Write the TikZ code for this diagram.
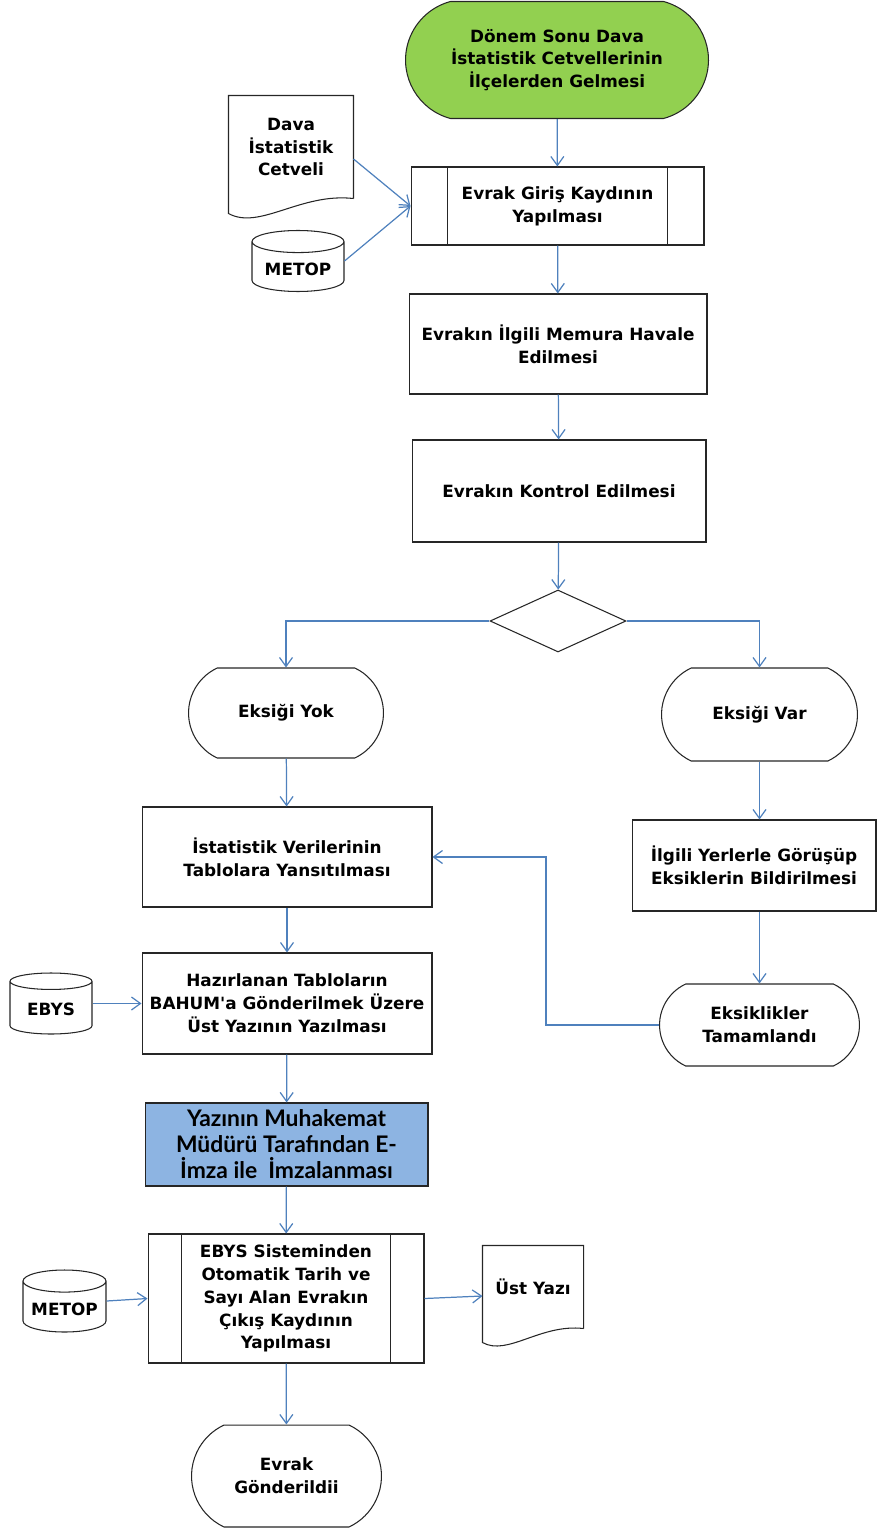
\documentclass[tikz,border=0pt]{standalone}
\usepackage{fontspec}
\newfontfamily\flowfont{DejaVu Sans}
\newfontfamily\signfont{Lato}
\usepackage{xcolor}
\definecolor{termgreen}{HTML}{92D050}
\definecolor{signblue}{HTML}{8DB4E2}
\definecolor{linkblue}{HTML}{4F81BD}
\usetikzlibrary{arrows.meta,shapes.geometric,shapes.misc}
\tikzset{
  fb/.style={draw=black!85, line width=0.6pt, align=center, fill=white,
             font=\flowfont\bfseries\fontsize{9.6}{13}\selectfont, inner sep=2pt},
  fproc/.style={fb, rectangle},
  fterm/.style={fb, rounded rectangle, rounded rectangle arc length=130},
  fdata/.style={fb, cylinder, shape border rotate=90, aspect=0.3, anchor=shape center},
  fdoc/.style={fb, draw=none, fill=none},
  fdec/.style={fb, diamond, inner sep=0pt},
  docline/.style={draw=black!85, line width=0.6pt},
  ar/.style={-{Straight Barb[length=1.8mm,width=2.6mm]}, draw=linkblue, line width=0.7pt},
}

\begin{document}
\begin{tikzpicture}[x=0.02cm, y=-0.02cm]
  \useasboundingbox (0,0) rectangle (877,1530);

  % top part
  \node[fterm, fill=termgreen, minimum width=6.2cm, minimum height=2.34cm,
        rounded rectangle arc length=150] (start) at (557,60)
        {Dönem Sonu Dava\\İstatistik Cetvellerinin\\İlçelerden Gelmesi};
  \node[fdoc, minimum width=2.48cm, minimum height=2.04cm] (doc1) at (291,147)
        {Dava\\İstatistik\\Cetveli};
  \node[fdata, minimum width=1.84cm, minimum height=1.22cm] (metop1) at (298,261) {METOP};
  \node[fproc, minimum width=5.86cm, minimum height=1.56cm] (giris) at (557.5,206)
        {Evrak Giriş Kaydının\\Yapılması};
  \node[fproc, minimum width=5.96cm, minimum height=2cm] (havale) at (558,344)
        {Evrakın İlgili Memura Havale\\Edilmesi};
  \node[fproc, minimum width=5.88cm, minimum height=2.04cm] (kontrol) at (559,491)
        {Evrakın Kontrol Edilmesi};
  \node[fdec, minimum width=2.72cm, minimum height=1.24cm] (karar) at (558,621) {};

  % two branches
  \node[fterm, minimum width=4.04cm, minimum height=1.8cm] (yok) at (286,713) {Eksiği Yok};
  \node[fterm, minimum width=4.06cm, minimum height=1.86cm] (var) at (759.5,714.5) {Eksiği Var};
  \node[fproc, minimum width=5.8cm, minimum height=2cm] (tablo) at (287,857)
        {İstatistik Verilerinin\\Tablolara Yansıtılması};
  \node[fproc, minimum width=4.88cm, minimum height=1.82cm] (ilgili) at (754,865.5)
        {İlgili Yerlerle Görüşüp\\Eksiklerin Bildirilmesi};
  \node[fterm, minimum width=4.14cm, minimum height=1.64cm] (tamam) at (759.5,1025)
        {Eksiklikler\\Tamamlandı};
  \node[fproc, minimum width=5.8cm, minimum height=2.02cm] (hazir) at (287,1003.5)
        {Hazırlanan Tabloların\\BAHUM'a Gönderilmek Üzere\\Üst Yazının Yazılması};
  \node[fdata, minimum width=1.64cm, minimum height=1.22cm] (ebys) at (51,1003.5) {EBYS};

  % bottom part
  \node[fproc, fill=signblue, minimum width=5.66cm, minimum height=1.66cm,
        font=\signfont\bfseries\fontsize{13}{14.8}\selectfont] (imza) at (286.5,1144.5)
        {Yazının Muhakemat\\Müdürü Tarafından E-\\İmza ile\ \ İmzalanması};
  \node[fproc, minimum width=5.52cm, minimum height=2.58cm] (cikis) at (286,1298.5)
        {EBYS Sisteminden\\Otomatik Tarih ve\\Sayı Alan Evrakın\\Çıkış Kaydının\\Yapılması};
  \node[fdata, minimum width=1.66cm, minimum height=1.24cm] (metop2) at (64.5,1301) {METOP};
  \node[fdoc, minimum width=2cm, minimum height=1.64cm] (ustyazi) at (533,1287) {Üst Yazı};
  \node[fterm, minimum width=3.94cm, minimum height=2.04cm] (gonder) at (286.5,1476)
        {Evrak\\Gönderildii};

  % document outlines and process side bars
  \draw[docline] (doc1.south east) -- (doc1.north east) -- (doc1.north west)
        -- ([yshift=-0.3cm]doc1.south west) .. controls +(31,17) and +(-53,-6) .. (doc1.south east);
  \draw[docline] (ustyazi.south east) -- (ustyazi.north east) -- (ustyazi.north west)
        -- ([yshift=-0.28cm]ustyazi.south west) .. controls +(25,14) and +(-43,-5) .. (ustyazi.south east);
  \foreach \p/\d in {giris/0.74cm, cikis/0.68cm} {
    \draw[docline] ([xshift=\d]\p.north west) -- ([xshift=\d]\p.south west);
    \draw[docline] ([xshift=-\d]\p.north east) -- ([xshift=-\d]\p.south east);
  }

  % connectors
  \draw[ar] (start) -- (giris);
  \draw[ar] ([yshift=-0.24cm]doc1.east) -- (giris.west);
  \draw[ar] (metop1.shape center -| metop1.east) -- (giris.west);
  \draw[ar] (giris) -- (havale);
  \draw[ar] (havale) -- (kontrol);
  \draw[ar] (kontrol) -- (karar);
  \draw[ar] (karar.west) -| (yok.north);
  \draw[ar] (karar.east) -| (var.north);
  \draw[ar] (yok) -- (tablo);
  \draw[ar] (var.south) -- (var.south |- ilgili.north);
  \draw[ar] (tamam.north |- ilgili.south) -- (tamam.north);
  \draw[ar] (tamam.west) -- ++(-113,0) |- (tablo.east);
  \draw[ar] (tablo) -- (hazir);
  \draw[ar] (ebys.shape center -| ebys.east) -- (hazir.west);
  \draw[ar] (hazir) -- (imza);
  \draw[ar] (imza) -- (cikis);
  \draw[ar] (metop2.shape center -| metop2.east) -- (cikis.west);
  \draw[ar] (cikis.east) -- ([yshift=-0.18cm]ustyazi.west);
  \draw[ar] (cikis) -- (gonder);
\end{tikzpicture}
\end{document}
